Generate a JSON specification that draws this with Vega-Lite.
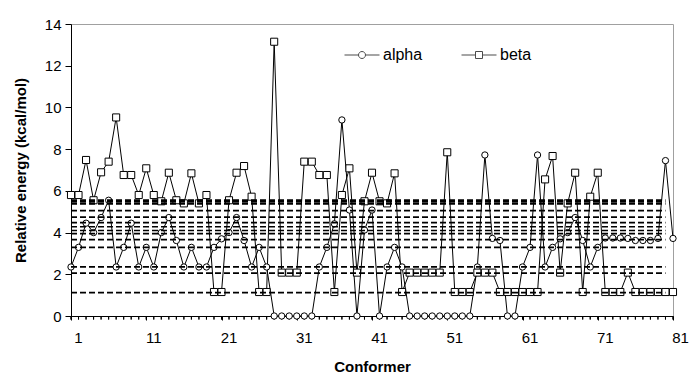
{
  "$schema": "https://vega.github.io/schema/vega-lite/v6.json",
  "width": 602,
  "height": 292,
  "autosize": {"type": "none"},
  "padding": {"left": 71, "top": 24, "right": 21, "bottom": 62},
  "background": "white",
  "config": {
    "font": "Liberation Sans",
    "view": {"stroke": "#a0a0a0", "strokeWidth": 1},
    "axis": {"domainColor": "black", "tickColor": "black", "labelColor": "black", "titleColor": "black", "labelFont": "Liberation Sans", "titleFont": "Liberation Sans", "labelFontSize": 15, "titleFontSize": 15, "titleFontWeight": "bold", "grid": false, "domainWidth": 1, "tickWidth": 1}
  },
  "datasets": {
    "series": [
      {"conformer":1,"series":"alpha","energy":2.35},{"conformer":2,"series":"alpha","energy":3.29},{"conformer":3,"series":"alpha","energy":4.45},{"conformer":4,"series":"alpha","energy":4.0},{"conformer":5,"series":"alpha","energy":4.72},{"conformer":6,"series":"alpha","energy":5.55},{"conformer":7,"series":"alpha","energy":2.35},{"conformer":8,"series":"alpha","energy":3.29},{"conformer":9,"series":"alpha","energy":4.45},{"conformer":10,"series":"alpha","energy":2.35},
      {"conformer":11,"series":"alpha","energy":3.29},{"conformer":12,"series":"alpha","energy":2.35},{"conformer":13,"series":"alpha","energy":4.0},{"conformer":14,"series":"alpha","energy":4.72},{"conformer":15,"series":"alpha","energy":3.62},{"conformer":16,"series":"alpha","energy":2.35},{"conformer":17,"series":"alpha","energy":3.29},{"conformer":18,"series":"alpha","energy":2.35},{"conformer":19,"series":"alpha","energy":2.35},{"conformer":20,"series":"alpha","energy":3.29},
      {"conformer":21,"series":"alpha","energy":3.7},{"conformer":22,"series":"alpha","energy":4.0},{"conformer":23,"series":"alpha","energy":4.72},{"conformer":24,"series":"alpha","energy":3.62},{"conformer":25,"series":"alpha","energy":2.35},{"conformer":26,"series":"alpha","energy":3.29},{"conformer":27,"series":"alpha","energy":2.35},{"conformer":28,"series":"alpha","energy":0},{"conformer":29,"series":"alpha","energy":0},{"conformer":30,"series":"alpha","energy":0},
      {"conformer":31,"series":"alpha","energy":0},{"conformer":32,"series":"alpha","energy":0},{"conformer":33,"series":"alpha","energy":0},{"conformer":34,"series":"alpha","energy":2.35},{"conformer":35,"series":"alpha","energy":3.29},{"conformer":36,"series":"alpha","energy":4.42},{"conformer":37,"series":"alpha","energy":9.4},{"conformer":38,"series":"alpha","energy":5.08},{"conformer":39,"series":"alpha","energy":0},{"conformer":40,"series":"alpha","energy":4.12},
      {"conformer":41,"series":"alpha","energy":5.08},{"conformer":42,"series":"alpha","energy":0},{"conformer":43,"series":"alpha","energy":2.35},{"conformer":44,"series":"alpha","energy":3.29},{"conformer":45,"series":"alpha","energy":2.35},{"conformer":46,"series":"alpha","energy":0},{"conformer":47,"series":"alpha","energy":0},{"conformer":48,"series":"alpha","energy":0},{"conformer":49,"series":"alpha","energy":0},{"conformer":50,"series":"alpha","energy":0},
      {"conformer":51,"series":"alpha","energy":0},{"conformer":52,"series":"alpha","energy":0},{"conformer":53,"series":"alpha","energy":0},{"conformer":54,"series":"alpha","energy":0},{"conformer":55,"series":"alpha","energy":2.35},{"conformer":56,"series":"alpha","energy":7.72},{"conformer":57,"series":"alpha","energy":3.72},{"conformer":58,"series":"alpha","energy":3.62},{"conformer":59,"series":"alpha","energy":0},{"conformer":60,"series":"alpha","energy":0},
      {"conformer":61,"series":"alpha","energy":2.35},{"conformer":62,"series":"alpha","energy":3.29},{"conformer":63,"series":"alpha","energy":7.72},{"conformer":64,"series":"alpha","energy":2.35},{"conformer":65,"series":"alpha","energy":3.29},{"conformer":66,"series":"alpha","energy":3.7},{"conformer":67,"series":"alpha","energy":4.0},{"conformer":68,"series":"alpha","energy":4.72},{"conformer":69,"series":"alpha","energy":3.62},{"conformer":70,"series":"alpha","energy":2.35},
      {"conformer":71,"series":"alpha","energy":3.29},{"conformer":72,"series":"alpha","energy":3.74},{"conformer":73,"series":"alpha","energy":3.74},{"conformer":74,"series":"alpha","energy":3.74},{"conformer":75,"series":"alpha","energy":3.72},{"conformer":76,"series":"alpha","energy":3.62},{"conformer":77,"series":"alpha","energy":3.62},{"conformer":78,"series":"alpha","energy":3.62},{"conformer":79,"series":"alpha","energy":3.72},{"conformer":80,"series":"alpha","energy":7.45},{"conformer":81,"series":"alpha","energy":3.72},
      {"conformer":1,"series":"beta","energy":5.8},{"conformer":2,"series":"beta","energy":5.8},{"conformer":3,"series":"beta","energy":7.48},{"conformer":4,"series":"beta","energy":5.55},{"conformer":5,"series":"beta","energy":6.89},{"conformer":6,"series":"beta","energy":7.4},{"conformer":7,"series":"beta","energy":9.52},{"conformer":8,"series":"beta","energy":6.76},{"conformer":9,"series":"beta","energy":6.76},{"conformer":10,"series":"beta","energy":5.8},
      {"conformer":11,"series":"beta","energy":7.08},{"conformer":12,"series":"beta","energy":5.8},{"conformer":13,"series":"beta","energy":5.5},{"conformer":14,"series":"beta","energy":6.87},{"conformer":15,"series":"beta","energy":5.55},{"conformer":16,"series":"beta","energy":5.4},{"conformer":17,"series":"beta","energy":6.84},{"conformer":18,"series":"beta","energy":5.4},{"conformer":19,"series":"beta","energy":5.8},{"conformer":20,"series":"beta","energy":1.15},
      {"conformer":21,"series":"beta","energy":1.15},{"conformer":22,"series":"beta","energy":5.55},{"conformer":23,"series":"beta","energy":6.87},{"conformer":24,"series":"beta","energy":7.19},{"conformer":25,"series":"beta","energy":5.72},{"conformer":26,"series":"beta","energy":1.15},{"conformer":27,"series":"beta","energy":1.15},{"conformer":28,"series":"beta","energy":13.15},{"conformer":29,"series":"beta","energy":2.08},{"conformer":30,"series":"beta","energy":2.08},
      {"conformer":31,"series":"beta","energy":2.08},{"conformer":32,"series":"beta","energy":7.4},{"conformer":33,"series":"beta","energy":7.4},{"conformer":34,"series":"beta","energy":6.76},{"conformer":35,"series":"beta","energy":6.76},{"conformer":36,"series":"beta","energy":1.15},{"conformer":37,"series":"beta","energy":5.8},{"conformer":38,"series":"beta","energy":7.08},{"conformer":39,"series":"beta","energy":2.08},{"conformer":40,"series":"beta","energy":5.5},
      {"conformer":41,"series":"beta","energy":6.87},{"conformer":42,"series":"beta","energy":5.5},{"conformer":43,"series":"beta","energy":5.4},{"conformer":44,"series":"beta","energy":6.84},{"conformer":45,"series":"beta","energy":1.15},{"conformer":46,"series":"beta","energy":2.08},{"conformer":47,"series":"beta","energy":2.08},{"conformer":48,"series":"beta","energy":2.08},{"conformer":49,"series":"beta","energy":2.08},{"conformer":50,"series":"beta","energy":2.08},
      {"conformer":51,"series":"beta","energy":7.85},{"conformer":52,"series":"beta","energy":1.15},{"conformer":53,"series":"beta","energy":1.15},{"conformer":54,"series":"beta","energy":1.15},{"conformer":55,"series":"beta","energy":2.08},{"conformer":56,"series":"beta","energy":2.08},{"conformer":57,"series":"beta","energy":2.08},{"conformer":58,"series":"beta","energy":1.15},{"conformer":59,"series":"beta","energy":1.15},{"conformer":60,"series":"beta","energy":1.15},
      {"conformer":61,"series":"beta","energy":1.15},{"conformer":62,"series":"beta","energy":1.15},{"conformer":63,"series":"beta","energy":1.15},{"conformer":64,"series":"beta","energy":6.55},{"conformer":65,"series":"beta","energy":7.67},{"conformer":66,"series":"beta","energy":2.08},{"conformer":67,"series":"beta","energy":5.4},{"conformer":68,"series":"beta","energy":6.87},{"conformer":69,"series":"beta","energy":1.15},{"conformer":70,"series":"beta","energy":5.72},
      {"conformer":71,"series":"beta","energy":6.87},{"conformer":72,"series":"beta","energy":1.15},{"conformer":73,"series":"beta","energy":1.15},{"conformer":74,"series":"beta","energy":1.15},{"conformer":75,"series":"beta","energy":2.08},{"conformer":76,"series":"beta","energy":1.15},{"conformer":77,"series":"beta","energy":1.15},{"conformer":78,"series":"beta","energy":1.15},{"conformer":79,"series":"beta","energy":1.15},{"conformer":80,"series":"beta","energy":1.15},{"conformer":81,"series":"beta","energy":1.15}
    ],
    "levels": [{"level": 5.56},{"level": 5.47},{"level": 5.38},{"level": 5.05},{"level": 4.74},{"level": 4.48},{"level": 4.28},{"level": 4.1},{"level": 3.95},{"level": 3.66},{"level": 3.29},{"level": 2.36},{"level": 2.06},{"level": 1.12}]
  },
  "layer": [
    {
      "data": {"name": "series"},
      "mark": {"type": "line", "color": "black", "strokeWidth": 1},
      "encoding": {
        "x": {"field": "conformer", "type": "quantitative", "scale": {"domain": [1, 81], "nice": false, "zero": false},
          "axis": {"values": [1, 11, 21, 31, 41, 51, 61, 71, 81], "tickSize": 4, "labelOffset": 7, "labelPadding": 10, "labelOverlap": false, "labelFlush": false, "labelBound": false, "title": "Conformer", "titlePadding": 14}},
        "y": {"field": "energy", "type": "quantitative", "scale": {"domain": [0, 14], "nice": false},
          "axis": {"values": [0,2,4,6,8,10,12,14], "tickSize": 6, "labelPadding": 4, "title": "Relative energy (kcal/mol)", "titlePadding": 16}},
        "detail": {"field": "series"}
      }
    },
    {
      "data": {"name": "series"},
      "mark": {"type": "tick", "orient": "vertical", "color": "black", "size": 3, "thickness": 1, "yOffset": 2, "clip": false, "opacity": 1},
      "encoding": {
        "x": {"field": "conformer", "type": "quantitative"},
        "y": {"datum": 0}
      }
    },
    {
      "data": {"name": "series"},
      "mark": {"type": "point", "filled": true, "fill": "white", "stroke": "black", "strokeWidth": 1, "opacity": 1},
      "encoding": {
        "x": {"field": "conformer", "type": "quantitative"},
        "y": {"field": "energy", "type": "quantitative"},
        "shape": {"field": "series", "type": "nominal", "scale": {"domain": ["alpha", "beta"], "range": ["circle", "square"]}, "legend": null},
        "size": {"field": "series", "type": "ordinal", "scale": {"domain": ["alpha", "beta"], "range": [40, 50]}, "legend": null}
      }
    },
    {
      "data": {"name": "levels"},
      "mark": {"type": "rule", "color": "black", "strokeWidth": 1.7, "strokeDash": [6, 3]},
      "encoding": {
        "x": {"datum": 1},
        "x2": {"datum": 80},
        "y": {"field": "level", "type": "quantitative"}
      }
    },
    {
      "data": {"name": "series"},
      "mark": {"type": "point", "filled": false, "color": "black", "strokeWidth": 1, "size": 49},
      "encoding": {
        "x": {"field": "conformer", "type": "quantitative"},
        "y": {"datum": -50},
        "shape": {"field": "series", "type": "nominal",
          "scale": {"domain": ["alpha", "beta"], "range": ["M-5,0H-1M1,0H5M-1,0A1,1,0,1,1,1,0A1,1,0,1,1,-1,0", "M-5,0H-1M1,0H5M-1,-1H1V1H-1Z"]},
          "legend": {"title": null, "orient": "none", "direction": "horizontal", "legendX": 283, "legendY": 23,
            "labelFont": "Liberation Sans", "labelFontSize": 16, "labelColor": "black",
            "symbolSize": 49, "symbolStrokeWidth": 1, "symbolStrokeColor": "black", "symbolFillColor": "white",
            "labelOffset": 13, "columnPadding": 36}}
      }
    }
  ],
  "resolve": {"scale": {"shape": "independent", "size": "independent"}}
}
